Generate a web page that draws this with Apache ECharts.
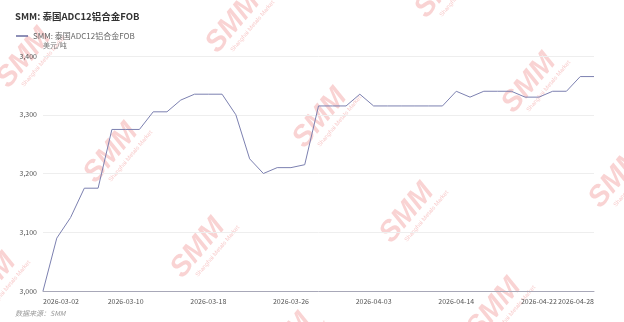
<!DOCTYPE html>
<html>
<head>
<meta charset="utf-8">
<script src="https://cdn.jsdelivr.net/npm/echarts@6/dist/echarts.min.js"></script>
<style>html,body{margin:0;padding:0;background:#fff;}#c{width:624px;height:322px;}</style>
</head>
<body>
<div id="c"></div>
<script>
const categories = [
  '2026-03-02','2026-03-03','2026-03-04','2026-03-05','2026-03-06',
  '2026-03-09','2026-03-10','2026-03-11','2026-03-12','2026-03-13',
  '2026-03-16','2026-03-17','2026-03-18','2026-03-19','2026-03-20',
  '2026-03-23','2026-03-24','2026-03-25','2026-03-26','2026-03-27',
  '2026-03-30','2026-03-31','2026-04-01','2026-04-02','2026-04-03',
  '2026-04-07','2026-04-08','2026-04-09','2026-04-10','2026-04-13',
  '2026-04-14','2026-04-15','2026-04-16','2026-04-17','2026-04-20',
  '2026-04-21','2026-04-22','2026-04-23','2026-04-24','2026-04-27',
  '2026-04-28'
];
const seriesValues = [
  3000,3090,3125,3175,3175,
  3275,3275,3275,3305,3305,
  3325,3335,3335,3335,3300,
  3225,3200,3210,3210,3215,
  3315,3315,3315,3335,3315,
  3315,3315,3315,3315,3315,
  3340,3330,3340,3340,3340,
  3330,3330,3340,3340,3365,
  3365
];
const yTicks = [3000, 3100, 3200, 3300, 3400];
const seriesName = 'SMM: 泰国ADC12铝合金FOB';
const titleText = 'SMM: 泰国ADC12铝合金FOB';
const unitText = '美元/吨';
const sourceText = '数据来源：SMM';

const font = '"Noto Sans CJK SC", "Noto Sans", sans-serif';

// decorative watermark lattice
const wm = [];
const base = [111, 153], va = [87, 95], vb = [122, -130];
for (let i = -2; i <= 5; i++) {
  for (let j = -2; j <= 4; j++) {
    const x = base[0] + i * va[0] + j * vb[0];
    const y = base[1] + i * va[1] + j * vb[1];
    if (x < -60 || x > 690 || y < -50 || y > 370) continue;
    wm.push({
      type: 'group', x: x, y: y, rotation: Math.PI * 50 / 180, z: 0, silent: true,
      children: [
        { type: 'text', style: { text: 'SMM', x: 0, y: 0, align: 'center', verticalAlign: 'middle',
          font: 'italic bold 29px "Liberation Sans", sans-serif', fill: 'rgba(238,120,120,0.33)' } },
        { type: 'text', style: { text: 'Shanghai Metals Market', x: 10, y: 17, align: 'center', verticalAlign: 'middle',
          font: '6px "Liberation Sans", sans-serif', fill: 'rgba(238,120,120,0.4)' } }
      ]
    });
  }
}
wm.push({ type: 'text', left: 15, top: 310, z: 10, style: { text: sourceText, font: 'italic 7px ' + font, fill: '#999' } });

const chart = echarts.init(document.getElementById('c'), null, { renderer: 'canvas' });
chart.setOption({
  animation: false,
  backgroundColor: '#fff',
  title: { text: titleText, left: 10, top: 7, textStyle: { fontSize: 9.5, fontWeight: 'bold', color: '#333', fontFamily: font } },
  legend: { left: 11, top: 27, itemWidth: 12, itemHeight: 8, itemGap: 5, icon: 'path://M0,0 L12,0 L12,1.4 L0,1.4 Z',
    textStyle: { fontSize: 8, color: '#666', fontFamily: font }, data: [seriesName] },
  graphic: wm,
  grid: { left: 43, right: 30, top: 56, bottom: 31, containLabel: false },
  xAxis: {
    type: 'category', data: categories, boundaryGap: false,
    axisLine: { lineStyle: { color: '#a8a8b8', width: 1 } },
    axisTick: { show: false },
    axisLabel: { fontSize: 7, color: '#555', fontFamily: font, margin: 7,
      interval: (i) => i % 6 === 0 || i === categories.length - 1,
      alignMinLabel: 'left', alignMaxLabel: 'right' },
    splitLine: { show: false }
  },
  yAxis: {
    type: 'value', min: yTicks[0], max: yTicks[yTicks.length - 1], interval: 100,
    name: unitText, nameLocation: 'end', nameGap: 7,
    nameTextStyle: { fontSize: 7, color: '#777', align: 'left', fontFamily: font },
    axisLine: { show: false }, axisTick: { show: false },
    axisLabel: { fontSize: 7, color: '#555', fontFamily: font, margin: 6,
      formatter: (v) => v.toLocaleString('en-US') },
    splitLine: { lineStyle: { color: '#eeeeee', width: 1 } }
  },
  series: [{
    name: seriesName, type: 'line', data: seriesValues, symbol: 'none', showSymbol: false,
    lineStyle: { color: '#7c80b0', width: 1 }, itemStyle: { color: '#5d6199' }, z: 5
  }]
});
</script>
</body>
</html>
